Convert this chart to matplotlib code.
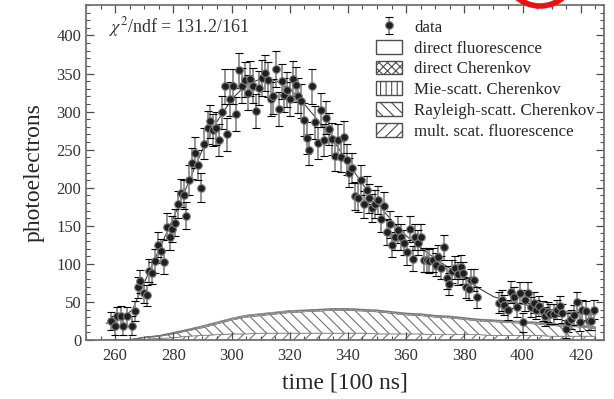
import numpy as np
import matplotlib.pyplot as plt
from matplotlib.patches import Patch, Circle

plt.rcParams['font.family'] = ['Liberation Serif', 'DejaVu Serif']
plt.rcParams['mathtext.fontset'] = 'stix'
plt.rcParams['hatch.linewidth'] = 0.8
plt.rcParams['hatch.color'] = '0.25'

t_data = [258.5, 259.9, 260.8, 262.0, 262.8, 264.1, 265.8, 266.8, 267.7, 268.7,
          269.9, 270.9, 271.6, 272.6, 273.7, 274.8, 275.7, 276.8, 277.7, 278.7,
          279.6, 280.7, 281.6, 282.5, 283.6, 284.4, 285.5, 286.5, 287.3, 288.6,
          289.5, 290.5, 291.8, 292.7, 293.6, 294.6, 295.7, 296.6, 297.6, 298.5,
          299.5, 300.5, 301.5, 302.6, 303.5, 304.5, 305.5, 306.5, 307.4, 308.5,
          309.4, 310.4, 311.4, 312.4, 313.4, 314.4, 315.3, 316.3, 317.2, 318.1,
          319.2, 320.1, 321.0, 322.0, 322.9, 323.9, 324.8, 325.8, 326.8, 327.8,
          328.8, 329.7, 330.6, 331.7, 332.6, 333.6, 334.5, 335.6, 336.5, 337.5,
          338.6, 339.6, 340.5, 341.5, 342.4, 343.5, 344.4, 345.4, 346.4, 347.4,
          348.3, 349.3, 350.3, 351.3, 352.3, 353.4, 354.3, 355.2, 356.1, 357.1,
          358.2, 359.2, 360.2, 361.2, 362.2, 363.1, 364.1, 365.2, 366.1, 367.1,
          368.0, 369.1, 370.1, 371.0, 372.1, 373.0, 373.9, 374.8, 375.7, 376.7,
          377.7, 378.7, 379.6, 380.6, 381.5, 382.4, 383.4, 384.2, 392.0, 392.8,
          393.7, 395.1, 396.0, 397.0, 398.0, 399.1, 400.1, 401.0, 402.0, 403.0,
          403.9, 404.8, 405.8, 406.9, 407.8, 408.7, 409.6, 410.8, 411.8, 412.8,
          413.7, 414.8, 415.8, 416.7, 417.7, 418.7, 419.7, 420.6, 421.7, 422.7,
          423.6, 424.7]
pe_data = [25, 19, 31, 32, 19, 31, 19, 38, 69, 77,
           62, 59, 91, 88, 104, 125, 117, 103, 149, 135,
           146, 154, 178, 193, 191, 163, 210, 232, 246, 230,
           200, 258, 279, 287, 276, 278, 263, 299, 333, 270,
           316, 333, 297, 354, 334, 342, 325, 343, 334, 301,
           331, 344, 351, 342, 316, 320, 356, 303, 340, 322,
           329, 316, 343, 335, 321, 314, 289, 265, 250, 333,
           286, 259, 302, 263, 292, 277, 264, 242, 263, 241,
           267, 237, 220, 226, 189, 187, 210, 178, 197, 186,
           173, 179, 184, 159, 176, 142, 152, 125, 135, 145,
           135, 128, 115, 146, 107, 135, 128, 135, 105, 105,
           104, 105, 99, 109, 95, 122, 82, 74, 90, 95,
           87, 96, 88, 69, 67, 79, 79, 56, 49, 52,
           46, 39, 63, 56, 43, 62, 23, 52, 62, 43,
           49, 40, 45, 38, 31, 37, 34, 34, 40, 45,
           35, 15, 23, 27, 33, 50, 24, 39, 38, 25,
           25, 40]

# fitted model: total and stacked Cherenkov / scattered light contributions
t_fit = [257, 262, 266, 270, 275, 280, 285, 290, 295, 300, 305, 310, 315, 320,
         325, 330, 335, 340, 345, 350, 355, 360, 365, 370, 375, 380, 385, 390,
         395, 400, 405, 410, 415, 420, 425]
fit_total = [22, 27, 40, 75, 118, 160, 205, 250, 287, 316, 335, 343, 341, 330,
             310, 287, 262, 233, 205, 180, 157, 137, 121, 107, 94, 81, 68, 57,
             51, 47, 43, 40, 37, 35, 33]
mult_fl = [0, 0, 0.5, 1, 2, 3, 5, 6, 7, 8, 8, 9, 9, 9, 9, 9, 9, 9, 9, 8, 8, 8,
           8, 7, 7, 7, 7, 6, 6, 6, 6, 5, 5, 5, 5]
rayleigh_ch = [0, 0.2, 0.3, 2, 2.5, 5, 7, 10, 14, 18, 22, 23, 25, 27, 28, 29,
               30, 30, 29, 29, 27, 25, 24, 23, 22, 20, 18, 18, 17, 16, 15, 14,
               13, 12, 10]
mie_ch = [0, 0.2, 0.2, 0.5, 0.8, 1, 1.2, 1.5, 1.5, 1.5, 1.5, 1.5, 1.5, 1.5, 1.5,
          1.5, 1.5, 1.5, 1.5, 1.5, 1.5, 1.5, 1.5, 1.5, 1.5, 1.5, 1.5, 1.5, 1.5,
          1.5, 1.5, 1.5, 1.5, 1.5, 1.5]
direct_ch = [0, 0.1, 0.1, 0.5, 0.7, 1, 1, 1.2, 1.2, 1.2, 1.2, 1.2, 1.2, 1.2, 1,
             1, 1, 1, 1, 1, 1, 1, 1, 1, 1, 1, 1, 1, 1, 1, 1, 1, 1, 1, 1]

legend_labels = ['data', 'direct fluorescence', 'direct Cherenkov',
                 'Mie-scatt. Cherenkov', 'Rayleigh-scatt. Cherenkov',
                 'mult. scat. fluorescence']

fig = plt.figure(figsize=(6.14, 3.99), dpi=100)
ax = fig.add_axes([86 / 614, 59 / 399, 518 / 614, 335 / 399])

tf = np.array(t_fit)
b1 = np.array(mult_fl)
b2 = b1 + np.array(rayleigh_ch)
b3 = b2 + np.array(mie_ch)
b4 = b3 + np.array(direct_ch)
edge = '0.45'
ax.fill_between(tf, 0, b1, facecolor='white', edgecolor=edge, hatch='///', lw=0.5)
ax.fill_between(tf, b1, b2, facecolor='white', edgecolor=edge,
                hatch='\\\\\\', lw=0.5)
ax.fill_between(tf, b2, b3, facecolor='white', edgecolor=edge, hatch='|||', lw=0.5)
ax.fill_between(tf, b3, b4, facecolor='white', edgecolor=edge, hatch='xxx', lw=0.5)
ax.plot(tf, fit_total, color='0.25', lw=0.8, zorder=3)

pe = np.array(pe_data)
err = 1.1 * np.sqrt(pe + 100)  # poisson-like uncertainty incl. background
eb = ax.errorbar(t_data, pe, yerr=err, fmt='o', color='0.12', ms=5.5,
                 mec='0.5', mew=0.8, ecolor='black', elinewidth=1.3,
                 capsize=3, capthick=1, zorder=4)
eb[2][0].set_color('0.55')

ax.set_xlim(250, 428)
ax.set_ylim(0, 440)
ax.set_xticks(np.arange(260, 421, 20))
ax.set_xticks(np.arange(250, 428, 5), minor=True)
ax.set_yticks(np.arange(0, 401, 50))
ax.set_yticks(np.arange(0, 441, 10), minor=True)
ax.tick_params(which='both', direction='in', top=True, right=True,
               color='0.3', labelsize=12, labelcolor='0.2')
ax.tick_params(which='major', length=6, width=0.9)
ax.tick_params(which='minor', length=3, width=0.8)
ax.tick_params(axis='x', pad=6)
for s in ax.spines.values():
    s.set_color('0.45')
    s.set_linewidth(1.3)

ax.set_xlabel('time [100 ns]', fontsize=17, color='0.15', labelpad=6)
ax.set_ylabel('photoelectrons', fontsize=17, color='0.15', labelpad=8)

ax.text(0.044, 0.935, r'$\chi^2$/ndf = 131.2/161', transform=ax.transAxes,
        fontsize=13, color='0.2', va='center')

handles = [eb,
           Patch(facecolor='white', edgecolor='0.3'),
           Patch(facecolor='white', edgecolor='0.3', hatch='xxxx'),
           Patch(facecolor='white', edgecolor='0.3', hatch='|||'),
           Patch(facecolor='white', edgecolor='0.3', hatch='\\\\\\'),
           Patch(facecolor='white', edgecolor='0.3', hatch='///')]
leg = ax.legend(handles, legend_labels, loc='upper left', frameon=False,
                bbox_to_anchor=(376 / 614, 1 - 19 / 399),
                bbox_transform=fig.transFigure, fontsize=12.2, borderpad=0,
                borderaxespad=0, handlelength=1.55, handleheight=0.87,
                handletextpad=0.7, labelspacing=0.24)
for txt in leg.get_texts():
    txt.set_color('0.15')

# red marker stroke at the top edge of the image
over = fig.add_axes([0, 0, 1, 1], zorder=10)
over.set_xlim(0, 614)
over.set_ylim(399, 0)
over.axis('off')
over.add_patch(Circle((540, -30), 36, fill=False, color='#ee1111', lw=4))

fig.savefig('out.png', dpi=100)
